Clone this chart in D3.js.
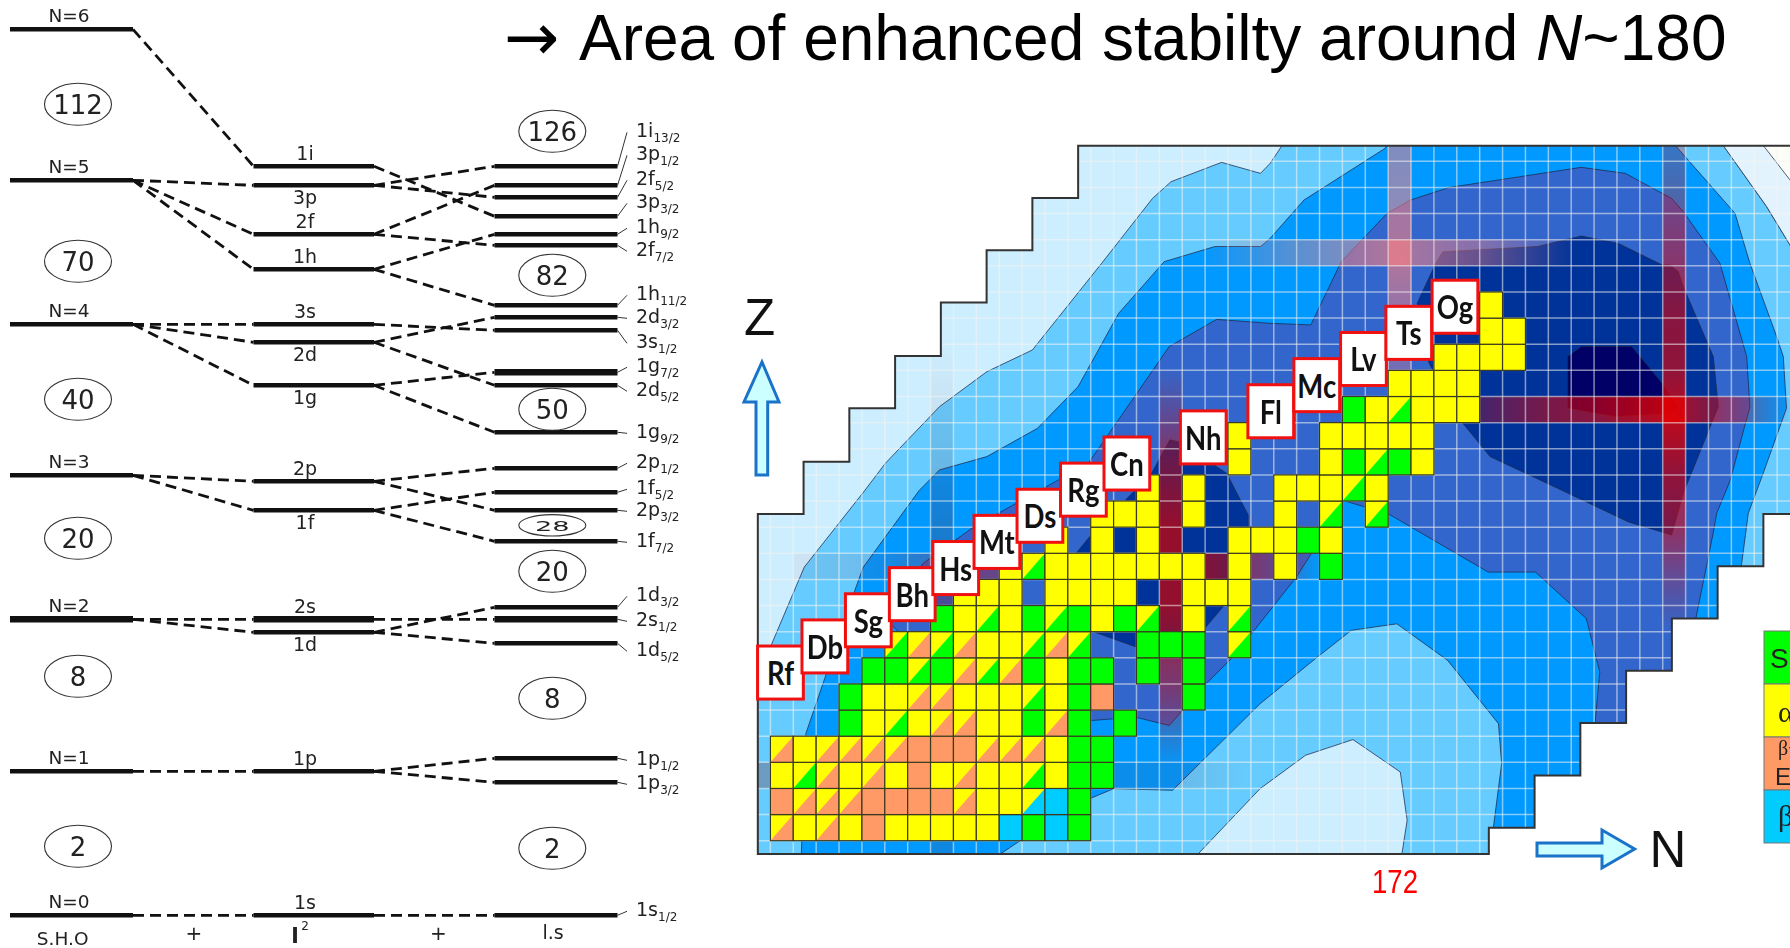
<!DOCTYPE html>
<html>
<head>
<meta charset="utf-8">
<script src="https://cdn.jsdelivr.net/npm/d3@7"></script>
<style>
	html, body { margin: 0; padding: 0; background: #fff; overflow: hidden; }
	svg { display: block; }
	text { font-family: "DejaVu Sans", sans-serif; fill: #222; }
	.arial text, text.arial { font-family: "Liberation Sans", Arial, sans-serif; }
	.soft { filter: blur(0.65px); }
</style>
</head>
<body>
<svg id="chart" width="1790" height="948"></svg>
<script type="text/javascript">
	'use strict';

	// ---- shell model diagram, energies (arbitrary units)
	var shoLabels = ["N=0", "N=1", "N=2", "N=3", "N=4", "N=5", "N=6"];
	var shoEnergy = [0, 144, 296, 440, 591, 735, 886];

	var orbitNames = ["1s", "1p", "1d", "2s", "1f", "2p", "1g", "2d", "3s", "1h", "2f", "3p", "1i"];
	var orbitEnergy = [0, 144, 283, 296, 405, 434, 530, 573, 591, 646, 681, 730, 749];
	var orbitBelow = ["1d", "1f", "1g", "2d", "3p"];

	var splitNames = ["1s", "1p", "1p", "1d", "2s", "1d", "1f", "2p", "1f", "2p", "1g", "2d", "1g", "3s", "2d", "1h", "2f", "1h", "3p", "2f", "3p", "1i"];
	var splitSubs = ["1/2", "3/2", "1/2", "5/2", "1/2", "3/2", "7/2", "3/2", "5/2", "1/2", "9/2", "5/2", "7/2", "1/2", "3/2", "11/2", "7/2", "9/2", "3/2", "5/2", "1/2", "13/2"];
	var splitEnergy = [0, 133, 157, 272, 296, 308, 374, 405, 423, 447, 483, 530, 543, 585, 598, 610, 670, 681, 699, 718, 730, 749];
	var splitLabelEnergy = [-1, 126, 150, 259, 289, 314, 368, 399, 421, 447, 477, 519, 543, 567, 592, 615, 659, 682, 707, 730, 755, 778];

	var shoLinks = [[0, 0], [144, 144], [296, 296], [296, 283], [440, 434], [440, 405], [591, 591], [591, 573], [591, 530], [735, 730], [735, 681], [735, 646], [886, 749]];
	var splitLinks = [[0, 0], [144, 157], [144, 133], [296, 296], [283, 308], [283, 272], [434, 447], [434, 405], [405, 423], [405, 374], [591, 585], [573, 598], [573, 530], [530, 543], [530, 483], [646, 681], [646, 610], [681, 730], [681, 670], [730, 749], [730, 718], [749, 699]];

	var shoMagic = [2, 8, 20, 40, 70, 112];
	var shoMagicEnergy = [69, 239, 377, 516, 654, 811];
	var splitMagic = [2, 8, 20, 28, 50, 82, 126];
	var splitMagicEnergy = [67, 217, 344, 390, 506, 640, 784];

	// ---- nuclide chart, all outlines are [N, Z]
	var frameOutline = [[144.45, 97.49], [144.45, 110.5], [146.45, 110.5], [146.45, 112.5], [148.45, 112.5], [148.45, 114.55], [150.45, 114.55], [150.45, 116.55], [152.45, 116.55], [152.45, 118.6], [154.45, 118.6], [154.45, 120.6], [156.45, 120.6], [156.45, 122.6], [158.45, 122.6], [158.45, 124.6], [190, 124.6], [190, 110.5], [188.4, 110.5], [188.4, 108.5], [186.4, 108.5], [186.4, 106.5], [184.4, 106.5], [184.4, 104.5], [182.4, 104.5], [182.4, 102.5], [180.4, 102.5], [180.4, 100.5], [178.4, 100.5], [178.4, 98.5], [176.4, 98.5], [176.4, 97.49]];

	var contourMid = [[144, 104.39], [144.45, 104.39], [145, 105.41], [146.48, 108.47], [149.14, 111.42], [150.02, 112.44], [152.39, 114.61], [154.46, 115.95], [156.45, 116.78], [159.48, 120.1], [161.7, 122.58], [162.51, 123.22], [164.72, 123.96], [166.42, 123.54], [166.84, 123.92], [167.36, 124.6], [186.65, 124.6], [188.54, 122.27], [189.56, 120.8], [190, 120.2], [190, 97], [144, 97]];
	var contourBlue = [[146.33, 97], [146.55, 102.1], [148.69, 107.58], [149.06, 108.47], [151.5, 111.4], [152.39, 112.19], [154.46, 112.7], [156.67, 113.78], [158.45, 115.38], [160.22, 118.18], [162.21, 120.16], [164.43, 120.74], [166.42, 120.74], [166.84, 121.05], [168.32, 122.52], [171.87, 124.5], [172, 124.7], [184.46, 124.7], [187.16, 122.01], [187.81, 120.1], [188.98, 117.29], [189.27, 116.53], [189.41, 114.55], [188.39, 112.06], [187.74, 110.53], [187.45, 108.6], [186, 100], [177, 97]];
	var islandMid = [[155.05, 97.49], [155.93, 98.01], [158.96, 99.61], [160, 99.99], [162.58, 99.93], [166.4, 103.24], [168.91, 105.03], [170.39, 106.05], [172.38, 106.3], [174.6, 104.9], [176.82, 102.48], [176.96, 100.95], [176.6, 98.52], [176.42, 97.49]];
	var islandLight = [[163.69, 97.49], [166.4, 99.99], [168.39, 101.27], [170.46, 101.87], [172.53, 100.63], [172.83, 98.78], [172.6, 97.49]];
	var contourDeep = [[150.61, 105.99], [150.25, 106.3], [151.65, 108.6], [153.87, 110], [158.89, 112.44], [162.43, 116.91], [164.5, 117.95], [166.84, 117.8], [168.62, 117.74], [169.95, 120.16], [171.94, 122], [172.98, 122.52], [174.67, 123], [180.44, 123.77], [182.36, 123.54], [184.39, 122.58], [184.9, 122.07], [186.5, 120.1], [187.67, 116.53], [187.81, 114.61], [186.95, 111.79], [186.36, 110.53], [186.2, 109.75], [185.46, 106.56], [185, 104], [182, 102.3], [181.03, 102.4], [181.25, 104.46], [180.66, 106.5], [178.44, 108.28], [176.37, 108.28], [172.01, 110.51], [169.96, 111.04], [168.65, 109], [168, 108.1], [165.23, 105.04], [163.99, 103.96], [162.43, 102.41], [160.95, 102.73], [159.03, 102.6]];
	var contourNavy = [[174.38, 120.54], [178.52, 120.74], [180.44, 121.14], [182.06, 120.86], [183.98, 120.03], [184.32, 120.03], [184.68, 119.78], [184.9, 119.2], [186.21, 116.53], [186.43, 114.61], [184.9, 111.3], [184.39, 109.7], [182.5, 110.2], [179.4, 111.49], [176.45, 112.7], [175.27, 113.97], [173.79, 116.27], [173.27, 118.57], [174.08, 120.1]];
	var pocketNavy = [[162.46, 113.34], [162.9, 113.25], [164.94, 112.06], [165.88, 110.47], [165.88, 109.4], [164.79, 106.96], [163.99, 106.13], [162, 105.3], [160.93, 105.43], [159.11, 106], [158.6, 107], [158.38, 109.02], [158.96, 109.64], [161.66, 112.06]];
	var contourCore = [[179.85, 116.53], [180.44, 116.91], [182.65, 116.91], [183.98, 115.5], [184.65, 114.61], [184.28, 114.35], [181.91, 114.23], [179.85, 114.55]];
	var cornerPale = [[186.65, 124.6], [188.54, 122.27], [189.56, 120.8], [190, 120.2], [190, 124.7]];
	var cornerWhite = [[188.4, 124.6], [189.56, 123.29], [190, 122.8], [190, 124.7]];

	// magic number bands: positions along the band and their strength
	var hBandZ = [100, 108, 114, 120];
	var hBandColor = ["#800000", "#d00000", "#e80000", "#ff8080"];
	var hBandN = [[144.45, 150, 156, 163, 166], [146, 150, 153.5, 156, 161, 164, 166.5, 169], [173, 176, 179, 181, 184, 187, 189.5], [164, 168, 172, 176, 180]];
	var hBandAlpha = [[0.25, 0.1, 0.08, 0.08, 0], [0.04, 0.08, 0.35, 0.3, 0.4, 0.62, 0.4, 0], [0, 0.3, 0.52, 0.58, 0.8, 0.4, 0.03], [0.02, 0.35, 0.6, 0.4, 0.02]];
	var vBandN = [152, 162, 172, 184];
	var vBandColor = ["#800000", "#d00000", "#ff8080", "#e80000"];
	var vBandZ = [[97.5, 104, 106, 108, 113, 117], [101, 104, 107, 110, 113, 116], [116, 120, 124.6], [106, 108, 110, 112, 114, 116, 118, 122, 124.6]];
	var vBandAlpha = [[0.12, 0.1, 0.25, 0.25, 0.08, 0], [0.04, 0.45, 0.7, 0.72, 0.45, 0.02], [0.3, 0.6, 0.5], [0, 0.25, 0.52, 0.62, 0.8, 0.62, 0.58, 0.36, 0.23]];

	// one string per Z starting at Z=98, one character per N starting at N=145
	// Y alpha, G SF, O beta+, C beta-, lower case = half alpha, half that mode
	var cellRows = [
		"oYoYOYYYYYCGCG",
		"OoooOOOOoYYcCG",
		"YgoYoYOYoYYgYGG",
		"oYooooOOOoooYGG",
		"...GYgYooYYGoG.G",
		"...GYYooYYYgYGO...G",
		"....GGgGogoGYGG.G.G",
		".....gogoYYgog..GGG.g",
		".......GYgYGgGYGg.Y.g",
		"........YYY.YYYY..YYY",
		"..........YgYYYYYYY.Y.Y.G",
		"............Y.Y.Y...YYYGY",
		"..............YYY.Y...Y.g.g",
		"................Y.Y...YYYgY",
		"....................Y...YGgGY",
		"....................Y...YYYYY",
		".........................GYgYYY",
		"...........................YYYY",
		".............................YYYY",
		"...............................YY",
		"...............................Y"
	];

	var elementNames = ["Rf", "Db", "Sg", "Bh", "Hs", "Mt", "Ds", "Rg", "Cn", "Nh", "Fl", "Mc", "Lv", "Ts", "Og"];
	var elementZ = [104, 105, 106, 107, 108, 109, 110, 111, 112, 113, 114, 115, 116, 117, 118];
	var elementLabelN = [144.44, 146.38, 148.28, 150.2, 152.1, 153.9, 155.78, 157.68, 159.58, 162.92, 165.87, 167.88, 169.92, 171.9, 173.92];

	var decayColors = { Y: "#ffff00", G: "#00ff00", O: "#ff9966", C: "#00ccff", o: "#ff9966", g: "#00ff00", c: "#00ccff" };
	var legendColors = ["#00ff00", "#ffff00", "#ff9966", "#00ccff"];

	var svg = d3.select("#chart");
	var defs = svg.append("defs");

	// ---- left part
	var yE = d3.scaleLinear().domain([0, 1000]).range([915.3, -84.7]);
	var shoX = [10, 133], orbitX = [253.5, 374], splitX = [494.5, 617.5];
	var left = svg.append("g").attr("class", "soft");

	function levelWidth(e) {
		return (e === 296 || e === 543) ? 6.5 : 4.5;
	}

	function drawLevels(energies, xr) {
		left.append("g").selectAll("line")
			.data(energies)
			.enter().append("line")
			.attr("x1", xr[0]).attr("x2", xr[1])
			.attr("y1", function(d) { return yE(d); })
			.attr("y2", function(d) { return yE(d); })
			.attr("stroke", "#111")
			.attr("stroke-width", levelWidth);
	}

	function drawLinks(links, x1, x2) {
		left.append("g").selectAll("line")
			.data(links)
			.enter().append("line")
			.attr("x1", x1).attr("x2", x2)
			.attr("y1", function(d) { return yE(d[0]); })
			.attr("y2", function(d) { return yE(d[1]); })
			.attr("stroke", "#111")
			.attr("stroke-width", 2.8)
			.attr("stroke-dasharray", "11 6");
	}

	function drawMagic(values, energies, cx) {
		var g = left.append("g").selectAll("g")
			.data(values)
			.enter().append("g")
			.attr("transform", function(d, i) { return "translate(" + cx + "," + yE(energies[i]) + ")"; });
		g.append("ellipse")
			.attr("rx", 33.5)
			.attr("ry", function(d) { return d === 28 ? 10.7 : 21; })
			.attr("fill", "none")
			.attr("stroke", "#333")
			.attr("stroke-width", 1.1);
		g.append("text")
			.attr("text-anchor", "middle")
			.attr("transform", function(d) { return d === 28 ? "scale(1.05,0.56)" : null; })
			.attr("y", 10)
			.style("font-size", "26px")
			.text(function(d) { return d; });
	}

	drawLinks(shoLinks, shoX[1], orbitX[0]);
	drawLinks(splitLinks, orbitX[1], splitX[0]);
	drawLevels(shoEnergy, shoX);
	drawLevels(orbitEnergy, orbitX);
	drawLevels(splitEnergy, splitX);
	drawMagic(shoMagic, shoMagicEnergy, 78);
	drawMagic(splitMagic, splitMagicEnergy, 552.3);

	left.append("g").selectAll("text")
		.data(shoLabels)
		.enter().append("text")
		.attr("x", 69)
		.attr("y", function(d, i) { return yE(shoEnergy[i]) - 7; })
		.attr("text-anchor", "middle")
		.style("font-size", "18.5px")
		.text(function(d) { return d; });

	left.append("g").selectAll("text")
		.data(orbitNames)
		.enter().append("text")
		.attr("x", 305)
		.attr("y", function(d, i) {
			return yE(orbitEnergy[i]) + (orbitBelow.indexOf(d) >= 0 ? 19 : -6);
		})
		.attr("text-anchor", "middle")
		.style("font-size", "19px")
		.text(function(d) { return d; });

	// leaders and labels right of the spin-orbit levels
	left.append("g").selectAll("line")
		.data(splitEnergy)
		.enter().append("line")
		.attr("x1", splitX[1]).attr("x2", 627)
		.attr("y1", function(d) { return yE(d); })
		.attr("y2", function(d, i) { return yE(splitLabelEnergy[i]) - 5; })
		.attr("stroke", "#333")
		.attr("stroke-width", 1);

	var splitText = left.append("g").selectAll("text")
		.data(splitNames)
		.enter().append("text")
		.attr("x", 636)
		.attr("y", function(d, i) { return yE(splitLabelEnergy[i]); })
		.style("font-size", "19px");
	splitText.append("tspan").text(function(d) { return d; });
	splitText.append("tspan")
		.attr("dy", 5)
		.style("font-size", "12px")
		.text(function(d, i) { return splitSubs[i]; });

	var foot = left.append("g");
	foot.append("text").attr("x", 62.7).attr("y", 945).attr("text-anchor", "middle").style("font-size", "18.5px").text("S.H.O");
	foot.append("text").attr("x", 194).attr("y", 940).attr("text-anchor", "middle").style("font-size", "20px").text("+");
	foot.append("text").attr("x", 295).attr("y", 943).attr("text-anchor", "middle").style("font-size", "22px").style("font-weight", "bold").text("l");
	foot.append("text").attr("x", 305).attr("y", 930).attr("text-anchor", "middle").style("font-size", "12px").text("2");
	foot.append("text").attr("x", 438.5).attr("y", 940).attr("text-anchor", "middle").style("font-size", "20px").text("+");
	foot.append("text").attr("x", 553).attr("y", 939).attr("text-anchor", "middle").style("font-size", "19px").text("l.s");

	// ---- title
	var title = svg.append("g").attr("class", "arial");
	title.append("text").attr("x", 504).attr("y", 60).style("font-family", "DejaVu Sans, sans-serif").style("font-size", "66px").style("fill", "#000").text("\u2192");
	var titleText = title.append("text").attr("x", 579).attr("y", 60).style("font-size", "64px").style("fill", "#000");
	titleText.append("tspan").text("Area of enhanced stabilty around ");
	titleText.append("tspan").style("font-style", "italic").text("N");
	titleText.append("tspan").text("~180");

	// ---- nuclide chart
	var xN = d3.scaleLinear().domain([145, 190]).range([770.4, 1800]);
	var yZ = d3.scaleLinear().domain([98, 125]).range([840.7, 135.2]);
	var outline = d3.line()
		.x(function(d) { return xN(d[0]); })
		.y(function(d) { return yZ(d[1]); });

	defs.append("clipPath").attr("id", "frameClip")
		.append("path").attr("d", outline(frameOutline) + "Z");

	var chart = svg.append("g").attr("class", "soft");
	var inside = chart.append("g").attr("clip-path", "url(#frameClip)");

	function drawArea(points, color, edge) {
		inside.append("path")
			.attr("d", outline(points) + "Z")
			.attr("fill", color)
			.attr("stroke", edge ? "#1c2a4a" : "none")
			.attr("stroke-opacity", 0.75)
			.attr("stroke-width", 1);
	}

	inside.append("path").attr("d", outline(frameOutline) + "Z").attr("fill", "#cceeff");
	drawArea(contourMid, "#66ccff", true);
	drawArea(contourBlue, "#0099ff", true);
	drawArea(islandMid, "#66ccff", true);
	drawArea(islandLight, "#cceeff", true);
	drawArea(contourDeep, "#3366cc", true);
	drawArea(contourNavy, "#003399", true);
	drawArea(pocketNavy, "#003399", true);
	drawArea(contourCore, "#000066", true);
	drawArea(cornerPale, "#e3f3fd", true);
	drawArea(cornerWhite, "#fdfdf8", true);

	// red bands, built from gradients that follow the strength arrays
	function addGradient(id, horizontal, along, alpha, color) {
		var scale = horizontal ? xN : yZ;
		var first = along[0], last = along[along.length - 1];
		var grad = defs.append("linearGradient")
			.attr("id", id)
			.attr("gradientUnits", "userSpaceOnUse")
			.attr("x1", horizontal ? scale(first) : 0)
			.attr("x2", horizontal ? scale(last) : 0)
			.attr("y1", horizontal ? 0 : scale(first))
			.attr("y2", horizontal ? 0 : scale(last));
		grad.selectAll("stop")
			.data(along)
			.enter().append("stop")
			.attr("offset", function(d) { return (d - first) / (last - first); })
			.attr("stop-color", color)
			.attr("stop-opacity", function(d, i) { return alpha[i]; });
	}

	hBandZ.forEach(function(z, i) {
		var along = hBandN[i];
		addGradient("hBand" + i, true, along, hBandAlpha[i], hBandColor[i]);
		inside.append("rect")
			.attr("x", xN(along[0]))
			.attr("width", xN(along[along.length - 1]) - xN(along[0]))
			.attr("y", yZ(z + 1))
			.attr("height", yZ(z) - yZ(z + 1))
			.attr("fill", "url(#hBand" + i + ")");
	});
	vBandN.forEach(function(n, i) {
		var along = vBandZ[i];
		addGradient("vBand" + i, false, along, vBandAlpha[i], vBandColor[i]);
		inside.append("rect")
			.attr("x", xN(n))
			.attr("width", xN(n + 1) - xN(n))
			.attr("y", yZ(along[along.length - 1]))
			.attr("height", yZ(along[0]) - yZ(along[along.length - 1]))
			.attr("fill", "url(#vBand" + i + ")");
	});

	// white lattice
	inside.append("g").selectAll("line")
		.data(d3.range(145, 190))
		.enter().append("line")
		.attr("x1", function(d) { return xN(d); })
		.attr("x2", function(d) { return xN(d); })
		.attr("y1", yZ(97)).attr("y2", yZ(125))
		.attr("stroke", "#f4f4f0").attr("stroke-opacity", 0.55).attr("stroke-width", 1.5);
	inside.append("g").selectAll("line")
		.data(d3.range(98, 125))
		.enter().append("line")
		.attr("x1", xN(144)).attr("x2", xN(190))
		.attr("y1", function(d) { return yZ(d); })
		.attr("y2", function(d) { return yZ(d); })
		.attr("stroke", "#f4f4f0").attr("stroke-opacity", 0.55).attr("stroke-width", 1.5);

	// nuclide cells
	var cells = [];
	cellRows.forEach(function(row, r) {
		row.split("").forEach(function(mode, c) {
			if (mode !== ".") {
				cells.push({ n: 145 + c, z: 98 + r, mode: mode });
			}
		});
	});

	var cell = chart.append("g").selectAll("g")
		.data(cells)
		.enter().append("g");
	cell.append("rect")
		.attr("x", function(d) { return xN(d.n); })
		.attr("y", function(d) { return yZ(d.z + 1); })
		.attr("width", xN(146) - xN(145))
		.attr("height", yZ(98) - yZ(99))
		.attr("fill", function(d) { return d.mode === d.mode.toUpperCase() ? decayColors[d.mode] : "#ffff00"; });
	cell.filter(function(d) { return d.mode !== d.mode.toUpperCase(); })
		.append("path")
		.attr("d", function(d) {
			return outline([[d.n, d.z], [d.n + 1, d.z + 1], [d.n + 1, d.z]]) + "Z";
		})
		.attr("fill", function(d) { return decayColors[d.mode]; });
	cell.append("rect")
		.attr("x", function(d) { return xN(d.n); })
		.attr("y", function(d) { return yZ(d.z + 1); })
		.attr("width", xN(146) - xN(145))
		.attr("height", yZ(98) - yZ(99))
		.attr("fill", "none")
		.attr("stroke", "#3a3a20")
		.attr("stroke-width", 1.2);

	chart.append("path")
		.attr("d", outline(frameOutline) + "Z")
		.attr("fill", "none")
		.attr("stroke", "#333")
		.attr("stroke-width", 2);

	// element tags
	var tag = chart.append("g").selectAll("g")
		.data(elementNames)
		.enter().append("g")
		.attr("transform", function(d, i) {
			return "translate(" + xN(elementLabelN[i]) + "," + yZ(elementZ[i] + 1.45) + ")";
		});
	tag.append("rect")
		.attr("width", xN(147) - xN(145))
		.attr("height", yZ(98) - yZ(100.03))
		.attr("fill", "#fff")
		.attr("stroke", "#f01010")
		.attr("stroke-width", 3);
	tag.append("text")
		.attr("transform", "translate(" + (xN(146) - xN(145)) + ",39) scale(0.86,1)")
		.attr("text-anchor", "middle")
		.style("font-family", "Lato, sans-serif")
		.style("font-weight", 700)
		.style("font-size", "32px")
		.style("fill", "#111")
		.text(function(d) { return d; });

	// axis arrows and names
	var arrowLine = d3.line();
	var arrows = chart.append("g")
		.attr("fill", "#ccffff")
		.attr("stroke", "#1a72c9")
		.attr("stroke-width", 3);
	arrows.append("path").attr("d", arrowLine([[762, 362], [779, 402], [767.7, 402], [767.7, 475], [756, 475], [756, 402], [744, 402]]) + "Z");
	arrows.append("path").attr("d", arrowLine([[1537, 843], [1602, 843], [1602, 830], [1634.6, 849], [1602, 868], [1602, 856], [1537, 856]]) + "Z");

	var axisNames = svg.append("g").attr("class", "arial soft");
	axisNames.append("text").attr("x", 759.5).attr("y", 335).attr("text-anchor", "middle").style("font-size", "51px").style("fill", "#111").text("Z");
	axisNames.append("text").attr("x", 1668).attr("y", 867).attr("text-anchor", "middle").style("font-size", "51px").style("fill", "#111").text("N");
	axisNames.append("text").attr("x", 1395).attr("y", 893).attr("text-anchor", "middle")
		.attr("textLength", 46).attr("lengthAdjust", "spacingAndGlyphs")
		.style("font-size", "33px").style("fill", "#ff0000").text("172");

	// legend runs off the right edge like the reference
	var legendY = d3.scaleBand().domain(d3.range(legendColors.length)).range([631, 843]);
	var legend = svg.append("g").attr("class", "arial soft");
	legend.selectAll("rect")
		.data(legendColors)
		.enter().append("rect")
		.attr("x", 1764)
		.attr("y", function(d, i) { return legendY(i); })
		.attr("width", 60)
		.attr("height", legendY.bandwidth())
		.attr("fill", function(d) { return d; })
		.attr("stroke", "#777")
		.attr("stroke-width", 1);
	legend.append("text").attr("x", 1770).attr("y", 668).style("font-size", "28px").text("SF");
	legend.append("text").attr("x", 1778).attr("y", 722).style("font-size", "30px").style("font-family", "Liberation Serif, serif").text("\u03b1");
	legend.append("text").attr("x", 1778).attr("y", 755).style("font-size", "20px").style("font-family", "Liberation Serif, serif").text("\u03b2+");
	legend.append("text").attr("x", 1775).attr("y", 785).style("font-size", "24px").text("EC");
	legend.append("text").attr("x", 1778).attr("y", 826).style("font-size", "30px").style("font-family", "Liberation Serif, serif").text("\u03b2-");
</script>
</body>
</html>
